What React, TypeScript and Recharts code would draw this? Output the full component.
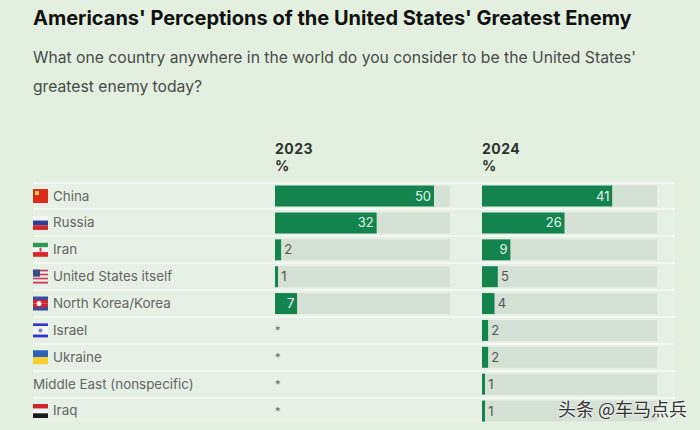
import React from 'react';
import { BarChart, Bar, Cell, XAxis, YAxis, LabelList } from 'recharts';

const countries = [
  'China',
  'Russia',
  'Iran',
  'United States itself',
  'North Korea/Korea',
  'Israel',
  'Ukraine',
  'Middle East (nonspecific)',
  'Iraq',
];
// '*' in the source table means less than 0.5%, no bar and no track
const values2023 = [50, 32, 2, 1, 7, 0, 0, 0, 0];
const labels2023 = ['50', '32', '2', '1', '7', '*', '*', '*', '*'];
const values2024 = [41, 26, 9, 5, 4, 2, 2, 1, 1];
const labels2024 = ['41', '26', '9', '5', '4', '2', '2', '1', '1'];
const AXIS_MAX = 55;

const GREEN = '#14844f';
const TRACK = '#d6e1d5';
const PAGE_BG = '#e3f0e0';
const ROW_BG = '#e7f0e5';
const FONT = 'Inter, sans-serif';

const ROW_H = 26.87;
const PLOT_TOP = 182.6;
const PLOT_H = ROW_H * 9;
const CHART_H = 430;

const tableFor = (values: number[], labels: string[]) =>
  countries.map((name, i) => ({
    name,
    value: values[i],
    label: labels[i],
    rest: AXIS_MAX - values[i],
  }));

const stripes: Record<string, string[]> = {
  Russia: ['#f4f4f4', '#2b3f9e', '#d4242c'],
  Iran: ['#2c9a55', '#f4f4f4', '#d8262c'],
  Ukraine: ['#2f62b5', '#f6cf2c'],
  Iraq: ['#d4242c', '#f4f4f4', '#1a1a1a'],
  Israel: ['#2f35c9', '#f4f4f4', '#f4f4f4', '#f4f4f4', '#2f35c9'],
  'North Korea/Korea': ['#3f4a9e', '#d4242c', '#d4242c', '#3f4a9e'],
  'United States itself': ['#c9495a', '#f2eeee', '#c9495a', '#f2eeee', '#c9495a', '#f2eeee', '#c9495a'],
  China: ['#dc2a1c'],
};

function Flag({ name, x, y }: { name: string; x: number; y: number }) {
  const bands = stripes[name];
  if (!bands) return null;
  const w = 15;
  const h = 14;
  return (
    <g>
      {bands.map((c, i) => (
        <rect key={i} x={x} y={y + (i * h) / bands.length} width={w} height={h / bands.length} fill={c} />
      ))}
      {name === 'China' && <rect x={x + 2} y={y + 2} width={4} height={4} fill="#f4d03f" />}
      {name === 'United States itself' && <rect x={x} y={y} width={7} height={7} fill="#3b4a8c" />}
      {name === 'North Korea/Korea' && <circle cx={x + 6} cy={y + 7} r={2.5} fill="#f4f4f4" />}
      {name === 'Israel' && <circle cx={x + 7.5} cy={y + 7} r={2} fill="#7d80d8" />}
      {name === 'Iran' && <rect x={x + 6.5} y={y + 5} width={2} height={4} fill="#c8474c" />}
    </g>
  );
}

function CountryTick(props: any) {
  const { y, payload } = props;
  const hasFlag = !!stripes[payload.value];
  return (
    <g>
      <Flag name={payload.value} x={33} y={y - 7} />
      <text x={hasFlag ? 53 : 33} y={y + 4.5} fontSize={13.4} fill="#626762" fontFamily={FONT}>
        {payload.value}
      </text>
    </g>
  );
}

// hung on the track bar, so x is where the green bar stops
function ValueLabel(props: any) {
  const { x, y, height, value } = props;
  if (value === '*') {
    return (
      <text x={x} y={y + height / 2 + 4} fontSize={11} fill="#666" fontFamily={FONT}>
        *
      </text>
    );
  }
  const inside = Number(value) >= 7;
  return (
    <text
      x={inside ? x - 3 : x + 3}
      y={y + height / 2 + 4.5}
      textAnchor={inside ? 'end' : 'start'}
      fontSize={13}
      fill={inside ? '#e6f3ea' : '#555'}
      fontFamily={FONT}
    >
      {value}
    </text>
  );
}

function Panel({ values, labels, left, width, marginLeft, showNames }: any) {
  return (
    <div style={{ position: 'absolute', left, top: 0 }}>
      <BarChart
        width={width}
        height={CHART_H}
        data={tableFor(values, labels)}
        layout="vertical"
        margin={{ top: PLOT_TOP, right: 0, bottom: CHART_H - PLOT_TOP - PLOT_H, left: marginLeft }}
        barSize={21}
      >
        <XAxis type="number" domain={[0, AXIS_MAX]} hide />
        <YAxis
          type="category"
          dataKey="name"
          width={showNames ? 242 : 0}
          hide={!showNames}
          axisLine={false}
          tickLine={false}
          interval={0}
          tick={<CountryTick />}
        />
        <Bar dataKey="value" stackId="a" fill={GREEN} isAnimationActive={false} />
        <Bar dataKey="rest" stackId="a" fill={TRACK} isAnimationActive={false}>
          {labels.map((l: string, i: number) => (
            <Cell key={i} fill={l === '*' ? 'transparent' : TRACK} />
          ))}
          <LabelList dataKey="label" content={<ValueLabel />} />
        </Bar>
      </BarChart>
    </div>
  );
}

const textAt = (left: number, top: number, extra: React.CSSProperties): React.CSSProperties => ({
  position: 'absolute',
  left,
  top,
  whiteSpace: 'nowrap',
  fontFamily: FONT,
  ...extra,
});

export default function App() {
  const header = { fontSize: 14, letterSpacing: 0.5, fontWeight: 700, color: '#2f332f', lineHeight: '17px' };
  return (
    <div style={{ position: 'absolute', left: 0, top: 0, width: 700, height: 430, background: PAGE_BG, overflow: 'hidden' }}>
      <div style={textAt(33, 5, { fontSize: 20, fontWeight: 700, color: '#111', lineHeight: '26px' })}>
        Americans' Perceptions of the United States' Greatest Enemy
      </div>
      <div style={textAt(33, 43, { fontSize: 15.7, color: '#474b47', lineHeight: '29px' })}>
        What one country anywhere in the world do you consider to be the United States'
        <br />
        greatest enemy today?
      </div>
      <div style={textAt(275, 140, header)}>2023</div>
      <div style={textAt(275, 157, header)}>%</div>
      <div style={textAt(482, 140, header)}>2024</div>
      <div style={textAt(482, 157, header)}>%</div>
      {countries.map((c, i) => (
        <div
          key={c}
          style={{
            position: 'absolute',
            left: 33,
            top: PLOT_TOP - 1 + i * ROW_H,
            width: 642,
            height: ROW_H,
            boxSizing: 'border-box',
            background: ROW_BG,
            borderTop: '2px solid #f4f8f2',
          }}
        />
      ))}
      <Panel values={values2023} labels={labels2023} left={0} width={450} marginLeft={33} showNames />
      <Panel values={values2024} labels={labels2024} left={482} width={175} marginLeft={0} showNames={false} />
      <div style={textAt(558, 396, { fontFamily: '"Noto Sans CJK SC", sans-serif', fontSize: 18, lineHeight: '24px', color: '#333', textShadow: '0 0 2px #fff, 0 0 2px #fff' })}>
        头条 @车马点兵
      </div>
    </div>
  );
}
